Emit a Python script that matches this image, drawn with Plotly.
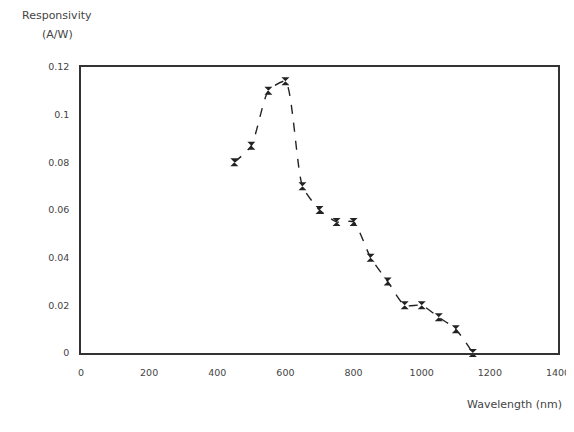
import plotly.graph_objects as go

wavelength = [450, 500, 550, 600, 650, 700, 750, 800, 850, 900, 950, 1000, 1050, 1100, 1150]
responsivity = [0.080, 0.087, 0.110, 0.114, 0.070, 0.060, 0.055, 0.055, 0.040, 0.030, 0.020, 0.020, 0.015, 0.010, 0.000]

x_ticks = [0, 200, 400, 600, 800, 1000, 1200, 1400]
y_ticks = [0, 0.02, 0.04, 0.06, 0.08, 0.1, 0.12]
y_tick_text = ["0", "0.02", "0.04", "0.06", "0.08", "0.1", "0.12"]

FONT = "DejaVu Sans, Verdana, sans-serif"
TXT = "#444"

fig = go.Figure()
fig.add_trace(go.Scatter(
    x=wavelength, y=responsivity, mode="lines+markers",
    line=dict(color="#222", width=1.4, shape="spline", smoothing=0.6, dash="dash"),
    marker=dict(symbol="hourglass", size=8, color="#222"),
    showlegend=False, cliponaxis=False,
))

fig.update_layout(
    width=574, height=432,
    margin=dict(l=73, r=14, t=59, b=87),
    paper_bgcolor="white", plot_bgcolor="white",
    font=dict(family=FONT, size=9, color=TXT),
    xaxis=dict(range=[0, 1400], tickvals=x_ticks, showgrid=False, zeroline=False,
               showline=True, linecolor="#333", linewidth=1.5, mirror=True,
               ticks="", ticklabelstandoff=10, tickfont=dict(size=9.5)),
    yaxis=dict(range=[0, 0.12], tickvals=y_ticks, ticktext=y_tick_text, showgrid=False,
               zeroline=False, showline=True, linecolor="#333", linewidth=1.5, mirror=True,
               ticks="", ticklabelstandoff=8, tickfont=dict(size=9.5)),
)

# annotation positions relative to the plot area
fig.add_annotation(text="Responsivity", x=-0.05, y=1.18, xref="paper", yref="paper",
                   xanchor="center", yanchor="middle", showarrow=False,
                   font=dict(size=11, color=TXT, family=FONT))
fig.add_annotation(text="(A/W)", x=-0.05, y=1.115, xref="paper", yref="paper",
                   xanchor="center", yanchor="middle", showarrow=False,
                   font=dict(size=11, color=TXT, family=FONT))
fig.add_annotation(text="Wavelength (nm)", x=1.0125, y=-0.181, xref="paper", yref="paper",
                   xanchor="right", yanchor="middle", showarrow=False,
                   font=dict(size=11, color=TXT, family=FONT))

fig.write_html("out.html")
